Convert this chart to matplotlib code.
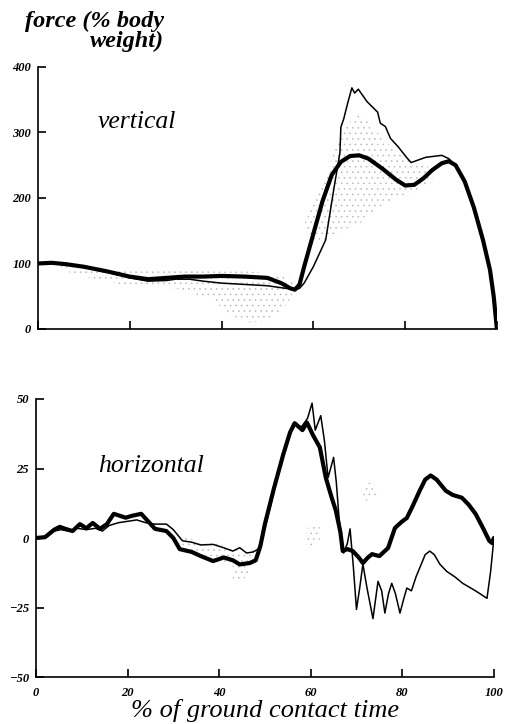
import matplotlib
matplotlib.use('Agg')
import matplotlib.pyplot as plt

# vertical force, thick curve
vt_x = [0, 3, 6, 10, 15, 20, 24, 28, 32, 36, 40, 45, 50, 53, 55, 56, 57, 58, 59, 60, 62,
        64, 66, 68, 70, 72, 75, 78, 80, 82, 84, 86, 88, 89.5, 91, 93, 95, 97, 98.5, 99.3, 100]
vt_y = [100, 101, 99, 95, 88, 80, 76, 78, 80, 80, 81, 80, 78, 70, 62, 60, 68, 95, 120, 145, 195,
        235, 255, 264, 265, 260, 245, 228, 219, 220, 230, 243, 253, 256, 250, 225, 185, 135, 90, 50, 0]

# vertical force, thin curve
vn_x = [0, 3, 6, 10, 15, 20, 24, 28, 30, 33, 36, 40, 45, 50, 54, 56, 57, 58, 60, 62.7, 64.5,
        65.8, 66, 66.6, 67.5, 68.4, 69.0, 69.8, 71.7, 74, 74.6, 75.7, 76.8, 78.5, 80.3, 81.3,
        84.5, 88, 89.5, 91, 93, 95, 97, 98.5, 99.3, 100]
vn_y = [100, 101, 99, 94, 87, 78, 73, 74, 76, 76, 73, 70, 68, 66, 62, 60, 62, 70, 95, 136, 215,
        269, 308, 320, 345, 368, 360, 366, 347, 331, 314, 309, 291, 278, 262, 254,
        262, 265, 260, 250, 226, 188, 138, 92, 52, 0]

# stippled (spread) band of the vertical force
vs1_x = [5, 10, 20, 30, 38, 42, 46, 50, 54, 56]
vs1_lo = [90, 80, 65, 62, 45, 20, 10, 12, 35, 60]
vs1_hi = [98, 95, 92, 90, 88, 88, 88, 85, 80, 70]
vs2_x = [58, 60, 62, 64, 66, 70, 74, 78, 82, 86]
vs2_lo = [150, 135, 130, 140, 150, 160, 185, 200, 210, 225]
vs2_hi = [160, 190, 220, 260, 300, 330, 300, 270, 255, 245]

# horizontal force, thick curve
ht_x = [0, 2, 4, 5.2, 7, 8, 9.6, 11, 12.4, 14, 15.5, 17, 19.6, 21, 23, 24.5, 26, 28.5, 30,
        31.4, 34, 36, 38.7, 41, 43, 44.5, 46.7, 48, 49, 50, 52, 54, 55.5, 56.5, 58.2, 59.2,
        60.5, 62, 63.3, 64.5, 65.5, 66.5, 67, 68, 69.2, 70.5, 71.4, 72.5, 73.4, 75, 76.9,
        78.4, 80, 81, 82.3, 83.8, 85, 86.2, 87.5, 89.5, 91, 93, 94.5, 96, 97.5, 99, 99.6, 100]
ht_y = [0, 0.3, 3, 4, 3, 2.5, 5, 3.5, 5.4, 3.3, 5, 8.7, 7.3, 8, 8.7, 6, 3.3, 2.5, 0,
        -4, -5, -6.5, -8.3, -7, -8, -9.5, -9, -8, -3, 5, 18, 30, 38, 41.3, 38.8, 41.5,
        37, 32.6, 21.7, 15, 9.8, 2, -4.7, -4, -4.7, -7, -9, -7, -5.8, -6.5, -3.6,
        3.6, 6, 7.2, 11.6, 17, 21, 22.5, 21, 17, 15.5, 14.5, 12, 8.7, 4, -1, -1.8, 0]

# horizontal force, thin curve
hn_x = [0, 2, 4, 5.5, 7, 9, 11, 13, 14.5, 16, 18, 20, 22, 24, 26, 28.5, 30, 32, 34, 36,
        38.7, 41, 43, 44.5, 46, 47.5, 48.5, 49.5, 51, 53, 55, 56.5, 58, 59.3, 60.3, 61, 62.2,
        63, 63.8, 65, 65.6, 66.2, 67.2, 68, 68.6, 69.3, 70, 70.7, 71.4, 72.3, 73.6, 74.7,
        75.5, 76.2, 77, 77.7, 78.5, 79.5, 80.3, 81, 82, 83, 83.8, 85, 86, 87, 88.2, 89.7,
        91.5, 93.2, 96, 98.5, 99.3, 99.8, 100]
hn_y = [0, 0, 2.5, 3, 2.5, 3.5, 3, 3.5, 2.5, 4.5, 5.5, 6, 6.5, 5.5, 5, 5, 3, -1, -1.5, -2.5,
        -2.3, -3.5, -4.7, -3.5, -5.4, -5, -4, 0, 10, 24, 36, 41, 40, 43, 48.5, 38.8, 44,
        35, 21.7, 29, 20, 7, -5.4, -2, 3.3, -10, -25.7, -18, -9.4, -18, -29, -15.6,
        -19, -27, -20, -16.3, -20, -27, -22, -18, -19, -14, -10.8, -6, -4.7, -6, -9.4, -12,
        -14, -16.3, -19, -21.7, -12, -3.6, 0]

# small stippled patches of the horizontal force
hs_patches = [
    ([30, 35, 40, 45, 48], [-3, -6, -8, -12, -6], [2, -1, -2, -5, -4]),
    ([43, 45, 47], [-16, -15, -13], [-12, -11, -11]),
    ([59, 60.5, 62], [-4, -3, -1], [3, 5, 4]),
    ([71.5, 73, 74.5], [13, 14, 15], [19, 20, 18]),
]

plt.rcParams['hatch.linewidth'] = 0.4

serif = 'Liberation Serif'
tick_font = dict(family=serif, style='italic', weight='bold', size=9)

fig = plt.figure(figsize=(5.06, 7.24), dpi=100)
ax1 = fig.add_axes([0.075, 0.5456, 0.907, 0.362])
ax2 = fig.add_axes([0.071, 0.0649, 0.905, 0.384])

stip = dict(facecolor='none', edgecolor='#b8b8b8', hatch='...', linewidth=0)

# vertical
ax1.fill_between(vs1_x, vs1_lo, vs1_hi, **stip)
ax1.fill_between(vs2_x, vs2_lo, vs2_hi, **stip)
ax1.plot(vn_x, vn_y, color='black', lw=1.1, solid_joinstyle='round')
ax1.plot(vt_x, vt_y, color='black', lw=3.0, solid_joinstyle='round', solid_capstyle='round')
ax1.set_xlim(0, 100)
ax1.set_ylim(0, 400)
ax1.set_yticks([0, 100, 200, 300, 400])
ax1.set_xticks([0, 20, 40, 60, 80, 100])
ax1.set_xticklabels([])
ax1.text(13, 316, 'vertical', family=serif, style='italic', fontsize=18.5, va='center')

# horizontal
for px, lo, hi in hs_patches:
    ax2.fill_between(px, lo, hi, **stip)
ax2.plot(hn_x, hn_y, color='black', lw=1.1, solid_joinstyle='round')
ax2.plot(ht_x, ht_y, color='black', lw=3.0, solid_joinstyle='round', solid_capstyle='round')
ax2.set_xlim(0, 100)
ax2.set_ylim(-50, 50)
ax2.set_yticks([-50, -25, 0, 25, 50])
ax2.set_xticks([0, 20, 40, 60, 80, 100])
ax2.text(13.5, 26, 'horizontal', family=serif, style='italic', fontsize=18.5, va='center')
ax2.set_xlabel('% of ground contact time', family=serif, style='italic', fontsize=19, labelpad=0)

for ax in (ax1, ax2):
    for s in ('top', 'right'):
        ax.spines[s].set_visible(False)
    for s in ('left', 'bottom'):
        ax.spines[s].set_linewidth(1.2)
    ax.tick_params(direction='in', length=6, width=1.2)
    ax.tick_params(axis='y', pad=5)
    ax.tick_params(axis='x', pad=7)
    for lab in ax.get_xticklabels() + ax.get_yticklabels():
        lab.set(**tick_font)

fig.text(0.324, 0.985, 'force (% body\nweight)', family=serif, style='italic', weight='bold',
         fontsize=17.5, ha='right', va='top', multialignment='right', linespacing=0.9)

fig.savefig('out.png', dpi=100)
